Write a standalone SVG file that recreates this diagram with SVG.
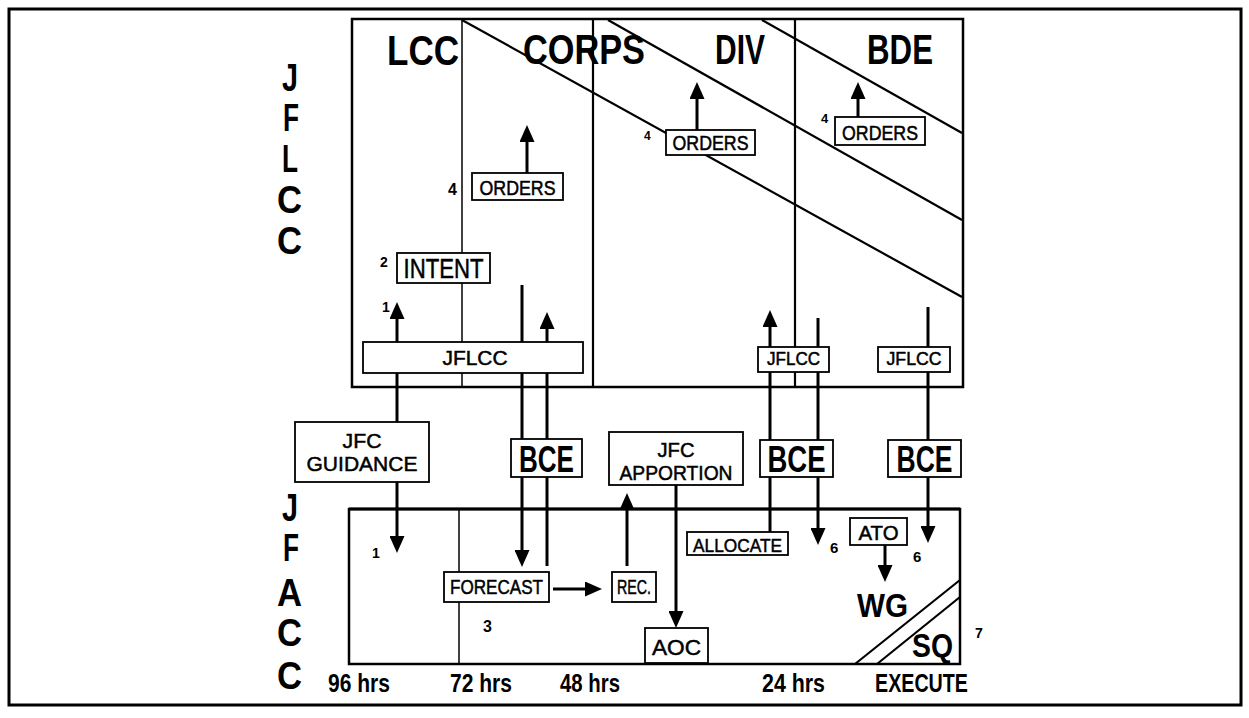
<svg xmlns="http://www.w3.org/2000/svg" width="1249" height="718" viewBox="0 0 1249 718">
<defs>
<style>
.frame{fill:none;stroke:#000;stroke-width:3}
.panel{fill:none;stroke:#000;stroke-width:2.5}
.div{stroke:#000;stroke-width:1.5;fill:none}
.div2{stroke:#000;stroke-width:2.2;fill:none}
.diag{stroke:#000;stroke-width:2.2;fill:none}
.ln{stroke:#000;stroke-width:3;fill:none}
.box{fill:#fff;stroke:#000;stroke-width:1.8}
text{font-family:"Liberation Sans",Arial,sans-serif;fill:#000}
.big{font-weight:bold;font-size:43px}
.side{font-weight:bold;font-size:39px}
.hrs{font-weight:bold;font-size:26px}
.lbl{font-size:20px;text-anchor:middle;stroke:#000;stroke-width:0.5}
.two{font-size:21px}
.bce{font-weight:bold;font-size:37px;text-anchor:middle}
.num{font-weight:bold}
</style>
<marker id="ah" viewBox="0 0 17 15" refX="1" refY="7.5" markerWidth="17" markerHeight="15" orient="auto-start-reverse" markerUnits="userSpaceOnUse">
<path d="M0,0 L17,7.5 L0,15 z" fill="#000"/>
</marker>
</defs>
<rect width="1249" height="718" fill="#fff"/>
<rect class="frame" x="9" y="9" width="1232" height="696"/>

<g id="jflcc-panel">
<rect class="panel" x="352" y="19" width="611" height="368"/>
<line class="div" x1="462" y1="19" x2="462" y2="387"/>
<line class="div2" x1="593" y1="19" x2="593" y2="387"/>
<line class="div2" x1="795" y1="19" x2="795" y2="387"/>
<line class="diag" x1="462" y1="20" x2="962" y2="297"/>
<line class="diag" x1="608" y1="20" x2="962" y2="220"/>
<line class="diag" x1="762" y1="20" x2="962" y2="133"/>
<text class="big" x="387" y="65" textLength="72" lengthAdjust="spacingAndGlyphs">LCC</text>
<text class="big" x="523" y="64" textLength="122" lengthAdjust="spacingAndGlyphs">CORPS</text>
<text class="big" x="715" y="64" textLength="50" lengthAdjust="spacingAndGlyphs">DIV</text>
<text class="big" x="867" y="64" textLength="66" lengthAdjust="spacingAndGlyphs">BDE</text>
</g>

<g id="jfacc-panel">
<rect class="panel" x="349" y="509" width="611" height="155"/>
<line class="ln" x1="349" y1="509" x2="960" y2="509"/>
<line class="div" x1="459" y1="509" x2="459" y2="664"/>
<line class="diag" x1="855" y1="664" x2="960" y2="580"/>
<line class="diag" x1="877" y1="664" x2="960" y2="597"/>
</g>

<g id="side-labels">
<text class="side" x="282" y="91" textLength="16" lengthAdjust="spacingAndGlyphs">J</text>
<text class="side" x="283" y="131" textLength="16" lengthAdjust="spacingAndGlyphs">F</text>
<text class="side" x="282" y="172" textLength="16" lengthAdjust="spacingAndGlyphs">L</text>
<text class="side" x="277" y="213" textLength="25" lengthAdjust="spacingAndGlyphs">C</text>
<text class="side" x="277" y="254" textLength="25" lengthAdjust="spacingAndGlyphs">C</text>
<text class="side" x="282" y="521" textLength="16" lengthAdjust="spacingAndGlyphs">J</text>
<text class="side" x="283" y="561" textLength="16" lengthAdjust="spacingAndGlyphs">F</text>
<text class="side" x="277" y="606" textLength="25" lengthAdjust="spacingAndGlyphs">A</text>
<text class="side" x="277" y="646" textLength="25" lengthAdjust="spacingAndGlyphs">C</text>
<text class="side" x="277" y="689" textLength="25" lengthAdjust="spacingAndGlyphs">C</text>
</g>

<g id="timeline">
<text class="hrs" x="328" y="692" textLength="62" lengthAdjust="spacingAndGlyphs">96 hrs</text>
<text class="hrs" x="450" y="692" textLength="62" lengthAdjust="spacingAndGlyphs">72 hrs</text>
<text class="hrs" x="560" y="692" textLength="60" lengthAdjust="spacingAndGlyphs">48 hrs</text>
<text class="hrs" x="762" y="692" textLength="63" lengthAdjust="spacingAndGlyphs">24 hrs</text>
<text class="hrs" x="875" y="692" textLength="93" lengthAdjust="spacingAndGlyphs">EXECUTE</text>
</g>

<g id="connectors">
<path class="ln" d="M397,318 L397,537" marker-start="url(#ah)" marker-end="url(#ah)"/>
<path class="ln" d="M522,285 L522,551" marker-end="url(#ah)"/>
<path class="ln" d="M547,566 L547,328" marker-end="url(#ah)"/>
<path class="ln" d="M553,589 L586,589" marker-end="url(#ah)"/>
<path class="ln" d="M627,566 L627,509" marker-end="url(#ah)"/>
<path class="ln" d="M676,485 L676,612" marker-end="url(#ah)"/>
<path class="ln" d="M770,532 L770,326" marker-end="url(#ah)"/>
<path class="ln" d="M818,318 L818,529" marker-end="url(#ah)"/>
<path class="ln" d="M928,307 L928,527" marker-end="url(#ah)"/>
<path class="ln" d="M885,545 L885,566" marker-end="url(#ah)"/>
<path class="ln" d="M527,173 L527,141" marker-end="url(#ah)"/>
<path class="ln" d="M697,130 L697,98" marker-end="url(#ah)"/>
<path class="ln" d="M858,117 L858,98" marker-end="url(#ah)"/>
</g>

<g id="orders-corps">
<rect class="box" x="472" y="173" width="91" height="27"/>
<text class="lbl" x="517.5" y="195" textLength="76" lengthAdjust="spacingAndGlyphs">ORDERS</text>
</g>
<g id="orders-div">
<rect class="box" x="666" y="130" width="89" height="25"/>
<text class="lbl" x="710.5" y="150" textLength="76" lengthAdjust="spacingAndGlyphs">ORDERS</text>
</g>
<g id="orders-bde">
<rect class="box" x="835" y="117" width="90" height="28"/>
<text class="lbl" x="880" y="140" textLength="76" lengthAdjust="spacingAndGlyphs">ORDERS</text>
</g>
<g id="intent">
<rect class="box" x="397" y="253" width="93" height="30"/>
<text class="lbl" x="443.5" y="278" style="font-size:27px" textLength="80" lengthAdjust="spacingAndGlyphs">INTENT</text>
</g>
<g id="jflcc-bar">
<rect class="box" x="363" y="342" width="220" height="31"/>
<text class="lbl" x="475" y="365" textLength="65" lengthAdjust="spacingAndGlyphs">JFLCC</text>
</g>
<g id="jflcc-div">
<rect class="box" x="758" y="347" width="71" height="25"/>
<text class="lbl" x="793.5" y="365" style="font-size:18px" textLength="53" lengthAdjust="spacingAndGlyphs">JFLCC</text>
</g>
<g id="jflcc-bde">
<rect class="box" x="878" y="347" width="72" height="25"/>
<text class="lbl" x="914" y="365" style="font-size:18px" textLength="55" lengthAdjust="spacingAndGlyphs">JFLCC</text>
</g>
<g id="jfc-guidance">
<rect class="box" x="295" y="422" width="134" height="60"/>
<text class="lbl two" x="362" y="448" textLength="39" lengthAdjust="spacingAndGlyphs">JFC</text>
<text class="lbl two" x="362" y="471" textLength="111" lengthAdjust="spacingAndGlyphs">GUIDANCE</text>
</g>
<g id="bce-1">
<rect class="box" x="511" y="439" width="71" height="38"/>
<text class="bce" x="546.5" y="472" textLength="55" lengthAdjust="spacingAndGlyphs">BCE</text>
</g>
<g id="jfc-apportion">
<rect class="box" x="609" y="432" width="134" height="53"/>
<text class="lbl two" x="676" y="457" textLength="37" lengthAdjust="spacingAndGlyphs">JFC</text>
<text class="lbl two" x="676" y="480" textLength="113" lengthAdjust="spacingAndGlyphs">APPORTION</text>
</g>
<g id="bce-2">
<rect class="box" x="760" y="440" width="73" height="37"/>
<text class="bce" x="796.5" y="472" textLength="58" lengthAdjust="spacingAndGlyphs">BCE</text>
</g>
<g id="bce-3">
<rect class="box" x="888" y="440" width="73" height="37"/>
<text class="bce" x="924.5" y="472" textLength="56" lengthAdjust="spacingAndGlyphs">BCE</text>
</g>
<g id="forecast">
<rect class="box" x="444" y="572" width="105" height="30"/>
<text class="lbl" x="496.5" y="594" style="font-size:21px" textLength="93" lengthAdjust="spacingAndGlyphs">FORECAST</text>
</g>
<g id="rec">
<rect class="box" x="612" y="572" width="44" height="30"/>
<text class="lbl" x="634" y="594" style="font-size:21px" textLength="34" lengthAdjust="spacingAndGlyphs">REC.</text>
</g>
<g id="allocate">
<rect class="box" x="687" y="532" width="101" height="23"/>
<text class="lbl" x="737.5" y="552" style="font-size:19px" textLength="89" lengthAdjust="spacingAndGlyphs">ALLOCATE</text>
</g>
<g id="aoc">
<rect class="box" x="645" y="628" width="63" height="35"/>
<text class="lbl" x="676.5" y="655" style="font-size:22px" textLength="49" lengthAdjust="spacingAndGlyphs">AOC</text>
</g>
<g id="ato">
<rect class="box" x="850" y="518" width="57" height="27"/>
<text class="lbl" x="878.5" y="540" textLength="40" lengthAdjust="spacingAndGlyphs">ATO</text>
</g>
<g id="wg">
<text class="big" style="font-size:34px" x="857" y="617" textLength="51" lengthAdjust="spacingAndGlyphs">WG</text>
</g>
<g id="sq">
<text class="big" style="font-size:34px" x="912" y="657" textLength="41" lengthAdjust="spacingAndGlyphs">SQ</text>
</g>

<g id="step-numbers">
<text class="num" x="448" y="195" style="font-size:16px">4</text>
<text class="num" x="380" y="267" style="font-size:14px">2</text>
<text class="num" x="382" y="312" style="font-size:14px">1</text>
<text class="num" x="644" y="140" style="font-size:12px">4</text>
<text class="num" x="821" y="123" style="font-size:13px">4</text>
<text class="num" x="372" y="558" style="font-size:14px">1</text>
<text class="num" x="483" y="632" style="font-size:16px">3</text>
<text class="num" x="830" y="553" style="font-size:15px">6</text>
<text class="num" x="913" y="562" style="font-size:15px">6</text>
<text class="num" x="975" y="638" style="font-size:14px">7</text>
</g>
</svg>
